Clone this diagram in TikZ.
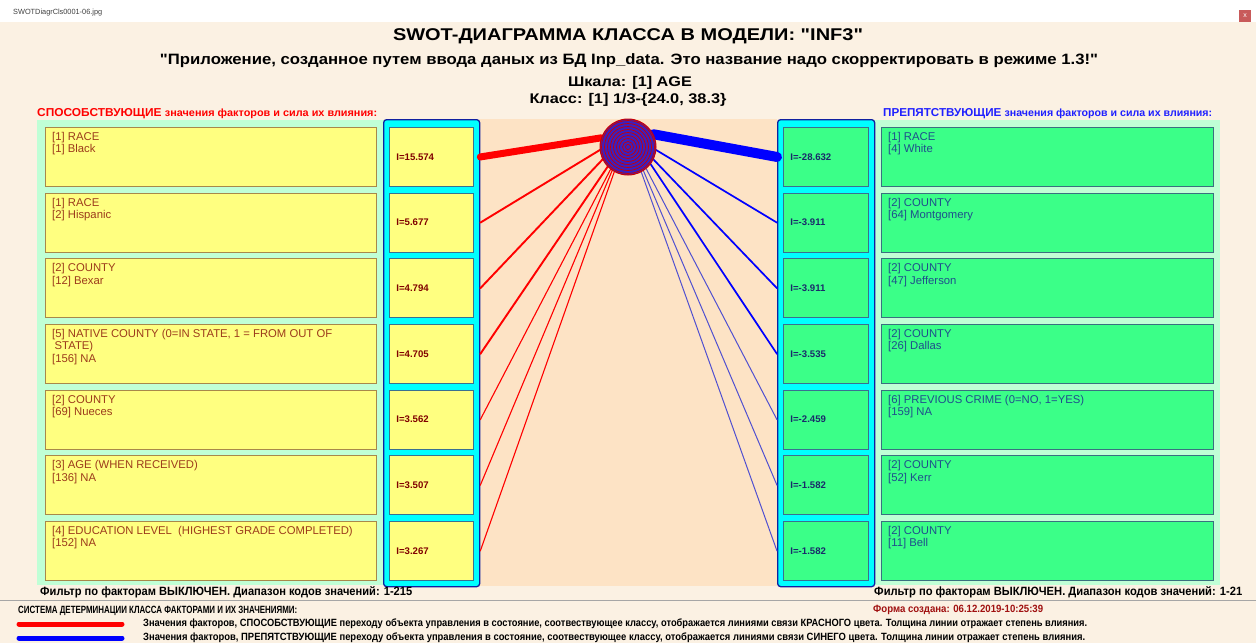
\documentclass[tikz,border=0pt]{standalone}
\usepackage{fontspec}
\setmainfont{Liberation Sans}[Ligatures=TeXOff]
\usepackage{graphicx}
\definecolor{bgbeige}{HTML}{FBF1E3}
\definecolor{panelgreen}{HTML}{C0FFD6}
\definecolor{yel}{HTML}{FFFF80}
\definecolor{ybord}{HTML}{A8884A}
\definecolor{cyancol}{HTML}{00FFFF}
\definecolor{cyanbord}{HTML}{1020A0}
\definecolor{vbord}{HTML}{3A7090}
\definecolor{peach}{HTML}{FDE3C5}
\definecolor{grn}{HTML}{3BFF88}
\definecolor{gbord}{HTML}{3A7080}
\definecolor{ltxt}{HTML}{9C3B1B}
\definecolor{rtxt}{HTML}{1F4E8C}
\definecolor{lvtxt}{HTML}{800000}
\definecolor{rvtxt}{HTML}{1A2A6A}
\definecolor{hdrblue}{HTML}{2020FF}
\definecolor{lightblue}{HTML}{5050D0}
\definecolor{darkred}{HTML}{A01010}
\definecolor{closered}{HTML}{C85A5A}
\definecolor{ringfill}{HTML}{3A20C0}
\newcommand\fitw[2]{\resizebox{#1}{\height}{#2}}
\newcommand\swotL[4]{%
  \node[lbox] (lf#1) at (45,#2) {};
  \node[ltext] at (52,#2+5) {#3};
  \node[lval] (lv#1) at (389,#2) {I=#4};
}
\newcommand\swotR[4]{%
  \node[rbox] (rf#1) at (881,#2) {};
  \node[rtext] at (888,#2+5) {#3};
  \node[rval] (rv#1) at (783,#2) {I=#4};
}
\tikzset{
  lbox/.style={draw=ybord, fill=yel, line width=0.9pt, minimum width=331pt, minimum height=59pt, anchor=north west, inner sep=0pt},
  rbox/.style={draw=gbord, fill=grn, line width=0.9pt, minimum width=332pt, minimum height=59pt, anchor=north west, inner sep=0pt},
  ltext/.style={anchor=north west, inner sep=0pt, align=left, text=ltxt, font=\fontsize{11.3}{12.5}\selectfont},
  rtext/.style={anchor=north west, inner sep=0pt, align=left, text=rtxt, font=\fontsize{11.3}{12.5}\selectfont},
  lval/.style={draw=vbord, fill=yel, line width=0.9pt, minimum width=84pt, minimum height=59pt, anchor=north west, inner xsep=7pt, inner ysep=0pt, text width=70pt, align=left, text=lvtxt, font=\fontsize{9.6}{10}\selectfont\bfseries},
  rval/.style={draw=vbord, fill=grn, line width=0.9pt, minimum width=85pt, minimum height=59pt, anchor=north west, inner xsep=7pt, inner ysep=0pt, text width=71pt, align=left, text=rvtxt, font=\fontsize{9.6}{10}\selectfont\bfseries},
  column/.style={draw=cyanbord, fill=cyancol, line width=1.3pt, rounded corners=3pt, anchor=north west, inner sep=0pt},
  plain/.style={inner sep=0pt},
  redline/.style={draw=red, line cap=round},
  blueline/.style={draw=blue, line cap=round},
}
\begin{document}
\begin{tikzpicture}[x=1pt,y=-1pt]
\useasboundingbox (0,0) rectangle (1256,643);
% backgrounds
\fill[bgbeige] (0,0) rectangle (1256,643);
\fill[white] (0,0) rectangle (1256,22);
\node[plain, anchor=west, text=black!75] (fname) at (13,13) {\fitw{89pt}{\fontsize{7.5}{8}\selectfont SWOTDiagrCls0001-06.jpg}};
\node[fill=closered, minimum width=12pt, minimum height=12pt, inner sep=0pt, text=white, font=\fontsize{7}{7}\selectfont] (closebtn) at (1245,16) {x};
% titles
\node[plain] (title) at (628,36) {\fitw{470pt}{\fontsize{17}{20}\selectfont\bfseries SWOT-ДИАГРАММА КЛАССА В МОДЕЛИ: "INF3"}};
\node[plain] (subtitle) at (629,61) {\fitw{938pt}{\fontsize{15}{18}\selectfont\bfseries "Приложение, созданное путем ввода даных из БД Inp\_data. Это название надо скорректировать в режиме 1.3!"}};
\node[plain] (scale) at (630,83) {\fitw{124pt}{\fontsize{14}{16}\selectfont\bfseries Шкала: [1] AGE}};
\node[plain] (cls) at (628,100) {\fitw{197pt}{\fontsize{14}{16}\selectfont\bfseries Класс: [1] 1/3-\{24.0, 38.3\}}};
\node[plain, anchor=west, text=red] (lhdr) at (37,114) {\fitw{340pt}{\bfseries\fontsize{11.5}{12}\selectfont СПОСОБСТВУЮЩИЕ \fontsize{10.5}{12}\selectfont значения факторов и сила их влияния:}};
\node[plain, anchor=west, text=hdrblue] (rhdr) at (883,114) {\fitw{329pt}{\bfseries\fontsize{11.5}{12}\selectfont ПРЕПЯТСТВУЮЩИЕ \fontsize{10.5}{12}\selectfont значения факторов и сила их влияния:}};
% panels
\fill[panelgreen] (37,120) rectangle (386,585);
\fill[panelgreen] (872,120) rectangle (1220,585);
\fill[peach] (479,119) rectangle (777,586);
\node[column, minimum width=96pt, minimum height=467pt] (lcol) at (383,119) {};
\node[column, minimum width=97pt, minimum height=467pt] (rcol) at (777,119) {};
% left rows
\swotL{1}{127}{[1] RACE\\{}[1] Black}{15.574}
\swotL{2}{192.7}{[1] RACE\\{}[2] Hispanic}{5.677}
\swotL{3}{258.3}{[2] COUNTY\\{}[12] Bexar}{4.794}
\swotL{4}{324}{[5] NATIVE COUNTY (0=IN STATE, 1 = FROM OUT OF\\\hspace*{2.5pt}STATE)\\{}[156] NA}{4.705}
\swotL{5}{389.7}{[2] COUNTY\\{}[69] Nueces}{3.562}
\swotL{6}{455.3}{[3] AGE (WHEN RECEIVED)\\{}[136] NA}{3.507}
\swotL{7}{521}{[4] EDUCATION LEVEL\ \ (HIGHEST GRADE COMPLETED)\\{}[152] NA}{3.267}
% right rows
\swotR{1}{127}{[1] RACE\\{}[4] White}{-28.632}
\swotR{2}{192.7}{[2] COUNTY\\{}[64] Montgomery}{-3.911}
\swotR{3}{258.3}{[2] COUNTY\\{}[47] Jefferson}{-3.911}
\swotR{4}{324}{[2] COUNTY\\{}[26] Dallas}{-3.535}
\swotR{5}{389.7}{[6] PREVIOUS CRIME (0=NO, 1=YES)\\{}[159] NA}{-2.459}
\swotR{6}{455.3}{[2] COUNTY\\{}[52] Kerr}{-1.582}
\swotR{7}{521}{[2] COUNTY\\{}[11] Bell}{-1.582}
% centre circle node (drawn later on top)
\node[circle, minimum size=56pt, inner sep=0pt] (c) at (628,147) {};
% connectors
\draw[redline, line width=7pt] (lcol.east |- lv1.center) -- (c.161);
\foreach \i/\a/\w in {2/186/1.9,3/206/1.9,4/224/1.9,5/232/1.1,6/236/1.1,7/241/1.1}
  \draw[redline, line width=\w pt] (lcol.east |- lv\i.center) -- (c.\a);
\draw[blueline, line width=10pt] (c.27) -- (rcol.west |- rv1.center);
\foreach \i/\a/\w/\col in {2/354/1.7/blue,3/334/1.7/blue,4/323/1.7/blue,5/310/1/lightblue,6/303/1/lightblue,7/298/1/lightblue}
  \draw[line width=\w pt, draw=\col, line cap=round] (c.\a) -- (rcol.west |- rv\i.center);
% circle with rings
\fill[ringfill] (c.center) circle (28pt);
\foreach \r in {2.5,5.5,...,26.5}
  \draw[red!80!black, line width=0.7pt] (c.center) circle (\r pt);
\draw[red!80!black, line width=1pt] (c.center) circle (28pt);
% bottom filter lines
\node[plain, anchor=west] (lfilt) at (40,592) {\fitw{372pt}{\fontsize{12}{14}\selectfont\bfseries Фильтр по факторам ВЫКЛЮЧЕН. Диапазон кодов значений: 1-215}};
\node[plain, anchor=west] (rfilt) at (874,592) {\fitw{368pt}{\fontsize{12}{14}\selectfont\bfseries Фильтр по факторам ВЫКЛЮЧЕН. Диапазон кодов значений: 1-21}};
\draw[black!35, line width=1pt] (0,600) -- (1256,600);
% legend
\node[plain, anchor=west] (sys) at (18,611) {\fitw{279pt}{\fontsize{10.5}{12}\selectfont\bfseries СИСТЕМА ДЕТЕРМИНАЦИИ КЛАССА ФАКТОРАМИ И ИХ ЗНАЧЕНИЯМИ:}};
\node[plain, anchor=west, text=darkred] (form) at (873,610) {\fitw{170pt}{\fontsize{10.5}{12}\selectfont\bfseries Форма создана: 06.12.2019-10:25:39}};
\draw[red, line width=5pt, line cap=round] (19,624) -- (122,624);
\draw[blue, line width=5pt, line cap=round] (19,638) -- (122,638);
\node[plain, anchor=west] (leg1) at (143,624) {\fitw{944pt}{\fontsize{10.5}{11}\selectfont\bfseries Значения факторов, СПОСОБСТВУЮЩИЕ переходу объекта управления в состояние, соотвествующее классу, отображается линиями связи КРАСНОГО цвета. Толщина линии отражает степень влияния.}};
\node[plain, anchor=west] (leg2) at (143,638) {\fitw{942pt}{\fontsize{10.5}{11}\selectfont\bfseries Значения факторов, ПРЕПЯТСТВУЮЩИЕ переходу объекта управления в состояние, соотвествующее классу, отображается линиями связи СИНЕГО цвета. Толщина линии отражает степень влияния.}};
\end{tikzpicture}
\end{document}
